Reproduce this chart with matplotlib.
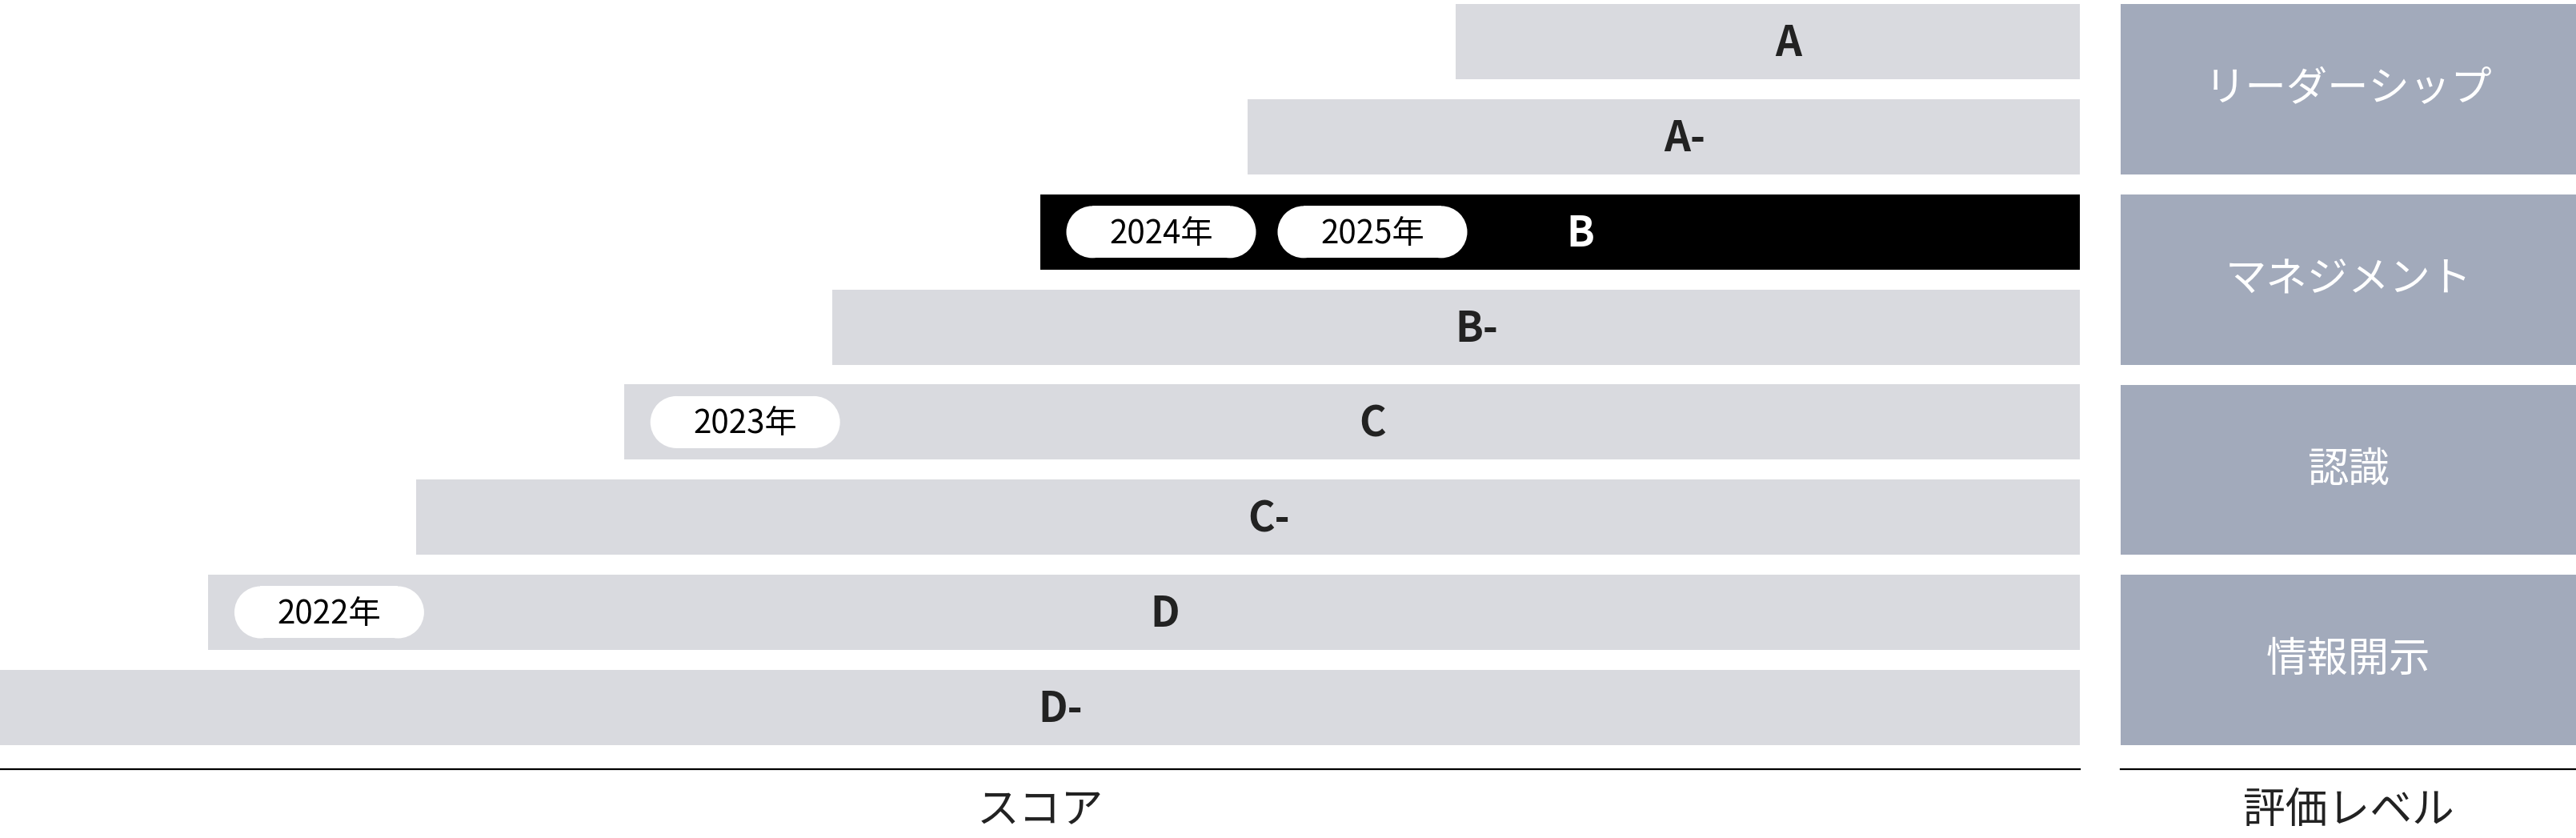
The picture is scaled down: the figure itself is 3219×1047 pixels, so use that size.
import matplotlib
matplotlib.use("Agg")
import matplotlib.pyplot as plt
from matplotlib.patches import Rectangle, Ellipse

plt.rcParams['font.family'] = ['Noto Sans CJK JP', 'DejaVu Sans']

# ---- data ----
grades = ['D-', 'D', 'C-', 'C', 'B-', 'B', 'A-', 'A']
grade_start = [0, 1, 2, 3, 4, 5, 6, 7]
score_max = 10
current_grade = 'B'
years = ['2022年', '2023年', '2024年', '2025年']
year_grades = ['D', 'C', 'B', 'B']
categories = ['情報開示', '認識', 'マネジメント', 'リーダーシップ']
category_rows = [(0, 1), (2, 3), (4, 5), (6, 7)]
xlabel_score = 'スコア'
xlabel_level = '評価レベル'

# ---- style ----
W, H, DPI = 3219, 1047, 100
GRAY = '#D9DADF'
CAT = '#A2AABB'
DARK = '#222222'
BAR_H = 0.79
YLIM = (-0.65, 7.44)

fig = plt.figure(figsize=(W / DPI, H / DPI), dpi=DPI)
fig.patch.set_facecolor('white')

ax_left_px, ax_w_px = 0, 2599
cat_left_px, cat_w_px = 2650, W - 2650
ax_bot_px, ax_h_px = 86, 961

ax = fig.add_axes([ax_left_px / W, ax_bot_px / H, ax_w_px / W, ax_h_px / H])
ax2 = fig.add_axes([cat_left_px / W, ax_bot_px / H, cat_w_px / W, ax_h_px / H])

px_per_x = ax_w_px / score_max
px_per_y = ax_h_px / (YLIM[1] - YLIM[0])

rows = list(range(len(grades)))
colors = ['black' if g == current_grade else GRAY for g in grades]
ax.barh(rows, [score_max - s for s in grade_start], left=grade_start,
        height=BAR_H, color=colors, linewidth=0)
ax.set_xlim(0, score_max)
ax.set_ylim(*YLIM)

for r, g in enumerate(grades):
    cx = (grade_start[r] + score_max) / 2 + 0.1
    ax.text(cx, r - 18 / px_per_y, g, ha='center', va='baseline', fontsize=37,
            fontweight='bold',
            color='white' if g == current_grade else DARK)

# pills
pill_h = 65 / px_per_y
pill_w = 237 / px_per_x
rx = (65 / 2) / px_per_x
count = {}
for yr, g in zip(years, year_grades):
    r = grades.index(g)
    k = count.get(g, 0)
    count[g] = k + 1
    x0 = grade_start[r] + 33 / px_per_x + k * 264 / px_per_x
    ax.add_patch(Rectangle((x0 + rx, r - pill_h / 2), pill_w - 2 * rx, pill_h,
                           facecolor='white', edgecolor='none'))
    for ex in (x0 + rx, x0 + pill_w - rx):
        ax.add_patch(Ellipse((ex, r), 2 * rx, pill_h, facecolor='white',
                             edgecolor='none'))
    ax.text(x0 + pill_w / 2, r - 14 / px_per_y, yr, ha='center', va='baseline',
            fontsize=29, color='black')

# category boxes
for cat, (lo, hi) in zip(categories, category_rows):
    c = (lo + hi) / 2
    ax2.barh([c], [1], left=[0], height=(hi - lo) + BAR_H, color=CAT, linewidth=0)
    ax2.text(0.5, c, cat, ha='center', va='center', fontsize=37, color='white')
ax2.set_xlim(0, 1)
ax2.set_ylim(*YLIM)

for a, lab in ((ax, xlabel_score), (ax2, xlabel_level)):
    a.set_xticks([])
    a.set_yticks([])
    for s in ('top', 'left', 'right'):
        a.spines[s].set_visible(False)
    a.spines['bottom'].set_linewidth(1.6)
    a.spines['bottom'].set_color('black')
    a.set_facecolor('none')
    a.annotate(lab, xy=(0.5, 0), xycoords='axes fraction', xytext=(0, -52 * 72 / DPI),
               textcoords='offset points', ha='center', va='center', fontsize=38,
               color=DARK)

fig.savefig('out.png', dpi=DPI, facecolor='white')
